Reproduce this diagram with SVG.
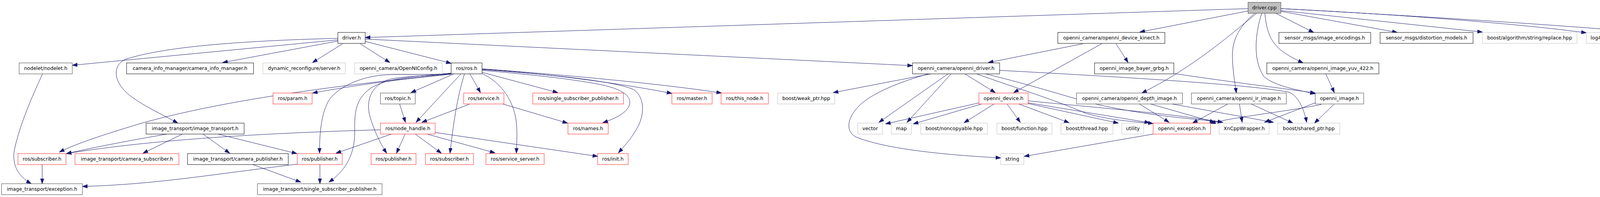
<svg xmlns="http://www.w3.org/2000/svg" width="4419" height="504" viewBox="0 0 4419 504">
<style>
rect{fill:#fff;stroke-width:1}
.k{stroke:#000}
.d{stroke:#404040}
.r{stroke:#ff2020}
.g{stroke:#bfbfbf}
.root{fill:#bfbfbf;stroke:#404040}
text{font-family:"DejaVu Sans","Liberation Sans",sans-serif;font-size:12.5px;fill:#000;text-anchor:middle}
#edges path{fill:none;stroke:#191970;stroke-width:1;marker-end:url(#a)}
</style>
<defs>
<marker id="a" markerUnits="userSpaceOnUse" markerWidth="14" markerHeight="11" refX="13" refY="5.5" orient="auto"><path d="M0,1 L13,5.5 L0,10 z" fill="#191970" stroke="#191970" stroke-width="1"/></marker>
</defs>
<rect x="0" y="0" width="4419" height="504" style="fill:#fff;stroke:none"/>
<g id="edges">
<path d="M3195,22 L935,96"/>
<path d="M3195,28 L2918,82"/>
<path d="M3217,34 C3160,80 3060,170 2923,238"/>
<path d="M3212,34 C3175,65 3155,100 3155,140 C3155,180 3162,215 3165,238"/>
<path d="M3230,34 C3215,80 3205,150 3235,195 C3260,220 3330,232 3367,240"/>
<path d="M3238,34 C3245,110 3270,130 3336,161"/>
<path d="M3266,34 L3363,83"/>
<path d="M3279,29 L3577,83"/>
<path d="M3279,27 L3795,82"/>
<path d="M3279,22 C3600,38 3900,62 4061,84"/>
<path d="M3279,22 C3700,45 4000,65 4210,83"/>
<path d="M865,102 L185,167"/>
<path d="M865,105 L570,160"/>
<path d="M865,98 C600,105 420,120 320,152 C285,170 290,215 340,250 C380,278 430,300 455,315"/>
<path d="M877,112 L800,160"/>
<path d="M922,112 L998,160"/>
<path d="M935,106 L1155,162"/>
<path d="M935,100 L2336,168"/>
<path d="M1155,187 C1080,195 1030,188 980,192 C920,197 860,225 840,260 C822,295 818,340 818,392"/>
<path d="M1155,188 C1080,196 1020,195 990,205 C945,225 940,260 945,290 C955,330 975,370 990,392"/>
<path d="M1155,188 C1060,195 990,200 950,225 C905,255 908,300 908,340 C908,400 880,440 842,466"/>
<path d="M1155,189 C900,215 600,250 370,313 C280,340 200,365 152,389"/>
<path d="M1155,190 C1000,205 900,220 800,238"/>
<path d="M1162,189 L1052,237"/>
<path d="M1180,189 L1065,313"/>
<path d="M1189,189 C1170,250 1160,320 1152,392"/>
<path d="M1203,189 L1230,237"/>
<path d="M1234,188 C1280,210 1310,250 1320,300 C1325,330 1323,360 1322,392"/>
<path d="M1234,185 L1428,237"/>
<path d="M1234,180 C1350,190 1450,200 1530,215 C1600,228 1620,250 1610,272 C1600,292 1570,305 1543,314"/>
<path d="M1234,178 C1400,190 1560,205 1620,228 C1650,245 1650,290 1635,320 C1620,350 1600,372 1583,391"/>
<path d="M1234,177 C1400,188 1600,215 1720,239"/>
<path d="M1234,176 C1450,192 1700,215 1847,238"/>
<path d="M1023,266 L1038,313"/>
<path d="M1203,266 L1080,313"/>
<path d="M1287,266 L1453,315"/>
<path d="M1002,343 L860,392"/>
<path d="M1037,343 L1015,392"/>
<path d="M1063,343 L1130,392"/>
<path d="M1093,343 L1267,391"/>
<path d="M1114,339 L1530,400"/>
<path d="M974,332 C700,340 400,355 170,393"/>
<path d="M427,343 C330,360 250,375 170,393"/>
<path d="M467,343 L366,392"/>
<path d="M520,343 L588,392"/>
<path d="M558,343 L760,393"/>
<path d="M108,421 L108,470"/>
<path d="M109,189 C85,240 50,320 37,383 C30,420 45,450 80,470"/>
<path d="M761,420 C550,445 400,472 211,477"/>
<path d="M819,421 L819,470"/>
<path d="M647,421 L770,466"/>
<path d="M2383,189 L2133,237"/>
<path d="M2377,189 C2300,210 2230,240 2200,270 C2165,305 2165,340 2195,352 C2280,385 2450,398 2562,404"/>
<path d="M2427,189 L2250,313"/>
<path d="M2435,189 L2322,313"/>
<path d="M2470,189 L2548,237"/>
<path d="M2559,180 C2800,193 3200,215 3300,236 C3325,245 3340,285 3345,313"/>
<path d="M2500,189 C2600,225 2700,255 2780,290 C2850,310 2920,312 2952,316"/>
<path d="M2523,189 C2650,220 2740,250 2800,265 C2950,300 3080,305 3130,313"/>
<path d="M2820,112 L2595,237"/>
<path d="M2857,112 L2888,160"/>
<path d="M2772,112 L2530,160"/>
<path d="M3005,188 C3150,210 3300,228 3367,238"/>
<path d="M3394,189 L3416,237"/>
<path d="M2507,263 L2267,317"/>
<path d="M2513,266 L2338,317"/>
<path d="M2545,266 L2468,314"/>
<path d="M2578,266 L2612,313"/>
<path d="M2608,266 L2737,314"/>
<path d="M2632,265 L2863,315"/>
<path d="M2632,263 L2943,314"/>
<path d="M2632,258 C2800,275 3000,290 3130,313"/>
<path d="M2917,266 L2993,313"/>
<path d="M2945,266 L3110,313"/>
<path d="M3000,266 L3260,313"/>
<path d="M3143,266 L3053,315"/>
<path d="M3173,266 L3180,313"/>
<path d="M3203,266 L3310,315"/>
<path d="M3415,267 L3365,315"/>
<path d="M3367,263 L3237,313"/>
<path d="M3383,267 C3300,285 3150,300 3099,316"/>
<path d="M2952,343 L2622,400"/>
</g>
<g id="n_driver_cpp"><rect class="root" x="3195" y="6" width="84" height="28"/><text x="3237" y="23.5">driver.cpp</text></g>
<g id="n_driver_h"><rect class="k" x="865" y="83" width="70" height="28"/><text x="900" y="100.5">driver.h</text></g>
<g id="n_kinect"><rect class="k" x="2708" y="83" width="274" height="28"/><text x="2845" y="100.5">openni_camera/openni_device_kinect.h</text></g>
<g id="n_img_enc"><rect class="k" x="3274" y="83" width="235" height="28"/><text x="3391.5" y="100.5">sensor_msgs/image_encodings.h</text></g>
<g id="n_distortion"><rect class="k" x="3533" y="83" width="238" height="28"/><text x="3652" y="100.5">sensor_msgs/distortion_models.h</text></g>
<g id="n_replace"><rect class="g" x="3795" y="83" width="242" height="28"/><text x="3916" y="100.5">boost/algorithm/string/replace.hpp</text></g>
<g id="n_logger"><rect class="g" x="4061" y="83" width="125" height="28"/><text x="4123.5" y="100.5">log4cxx/logger.h</text></g>
<g id="n_pluginlib"><rect class="k" x="4210" y="83" width="203" height="28"/><text x="4311.5" y="100.5">pluginlib/class_list_macros.h</text></g>
<g id="n_nodelet"><rect class="d" x="49" y="161" width="136" height="28"/><text x="117" y="178.5">nodelet/nodelet.h</text></g>
<g id="n_cim"><rect class="k" x="324" y="161" width="325" height="28"/><text x="486.5" y="178.5">camera_info_manager/camera_info_manager.h</text></g>
<g id="n_dyn"><rect class="g" x="673" y="161" width="211" height="28"/><text x="778.5" y="178.5">dynamic_reconfigure/server.h</text></g>
<g id="n_oniconfig"><rect class="g" x="908" y="161" width="224" height="28"/><text x="1020" y="178.5">openni_camera/OpenNIConfig.h</text></g>
<g id="n_rosros"><rect class="k" x="1155" y="161" width="79" height="28"/><text x="1194.5" y="178.5">ros/ros.h</text></g>
<g id="n_odriver"><rect class="k" x="2336" y="161" width="223" height="28"/><text x="2447.5" y="178.5">openni_camera/openni_driver.h</text></g>
<g id="n_grbg"><rect class="k" x="2802" y="161" width="203" height="28"/><text x="2903.5" y="178.5">openni_image_bayer_grbg.h</text></g>
<g id="n_yuv"><rect class="k" x="3243" y="161" width="287" height="28"/><text x="3386.5" y="178.5">openni_camera/openni_image_yuv_422.h</text></g>
<g id="n_param"><rect class="r" x="699" y="238" width="100" height="28"/><text x="749" y="255.5">ros/param.h</text></g>
<g id="n_topic"><rect class="d" x="974" y="238" width="89" height="28"/><text x="1018.5" y="255.5">ros/topic.h</text></g>
<g id="n_service"><rect class="r" x="1187" y="238" width="103" height="28"/><text x="1238.5" y="255.5">ros/service.h</text></g>
<g id="n_ssp"><rect class="r" x="1364" y="238" width="232" height="28"/><text x="1480" y="255.5">ros/single_subscriber_publisher.h</text></g>
<g id="n_master"><rect class="r" x="1720" y="238" width="103" height="28"/><text x="1771.5" y="255.5">ros/master.h</text></g>
<g id="n_thisnode"><rect class="r" x="1846" y="238" width="121" height="28"/><text x="1906.5" y="255.5">ros/this_node.h</text></g>
<g id="n_weakptr"><rect class="g" x="1991" y="238" width="146" height="28"/><text x="2064" y="255.5">boost/weak_ptr.hpp</text></g>
<g id="n_odevice"><rect class="r" x="2506" y="238" width="126" height="28"/><text x="2569" y="255.5">openni_device.h</text></g>
<g id="n_depth"><rect class="d" x="2756" y="238" width="271" height="28"/><text x="2891.5" y="255.5">openni_camera/openni_depth_image.h</text></g>
<g id="n_ir"><rect class="d" x="3050" y="238" width="243" height="28"/><text x="3171.5" y="255.5">openni_camera/openni_ir_image.h</text></g>
<g id="n_oimage"><rect class="d" x="3367" y="238" width="124" height="28"/><text x="3429" y="255.5">openni_image.h</text></g>
<g id="n_it"><rect class="k" x="374" y="315" width="251" height="28"/><text x="499.5" y="332.5">image_transport/image_transport.h</text></g>
<g id="n_nh"><rect class="r" x="974" y="315" width="140" height="28"/><text x="1044" y="332.5">ros/node_handle.h</text></g>
<g id="n_names"><rect class="r" x="1454" y="315" width="103" height="28"/><text x="1505.5" y="332.5">ros/names.h</text></g>
<g id="n_vector"><rect class="g" x="2196" y="315" width="63" height="28"/><text x="2227.5" y="332.5">vector</text></g>
<g id="n_map"><rect class="g" x="2282" y="315" width="51" height="28"/><text x="2307.5" y="332.5">map</text></g>
<g id="n_noncopy"><rect class="g" x="2357" y="315" width="171" height="28"/><text x="2442.5" y="332.5">boost/noncopyable.hpp</text></g>
<g id="n_function"><rect class="g" x="2552" y="315" width="141" height="28"/><text x="2622.5" y="332.5">boost/function.hpp</text></g>
<g id="n_thread"><rect class="g" x="2716" y="315" width="133" height="28"/><text x="2782.5" y="332.5">boost/thread.hpp</text></g>
<g id="n_utility"><rect class="g" x="2872" y="315" width="56" height="28"/><text x="2900" y="332.5">utility</text></g>
<g id="n_oexc"><rect class="r" x="2952" y="315" width="147" height="28"/><text x="3025.5" y="332.5">openni_exception.h</text></g>
<g id="n_xn"><rect class="g" x="3121" y="315" width="128" height="28"/><text x="3185" y="332.5">XnCppWrapper.h</text></g>
<g id="n_shared"><rect class="g" x="3271" y="315" width="159" height="28"/><text x="3350.5" y="332.5">boost/shared_ptr.hpp</text></g>
<g id="n_rossub1"><rect class="r" x="46" y="393" width="123" height="28"/><text x="107.5" y="410.5">ros/subscriber.h</text></g>
<g id="n_camsub"><rect class="r" x="192" y="393" width="266" height="28"/><text x="325" y="410.5">image_transport/camera_subscriber.h</text></g>
<g id="n_campub"><rect class="k" x="480" y="393" width="258" height="28"/><text x="609" y="410.5">image_transport/camera_publisher.h</text></g>
<g id="n_rospub1"><rect class="r" x="761" y="393" width="115" height="28"/><text x="818.5" y="410.5">ros/publisher.h</text></g>
<g id="n_rospub2"><rect class="r" x="950" y="393" width="115" height="28"/><text x="1007.5" y="410.5">ros/publisher.h</text></g>
<g id="n_rossub2"><rect class="r" x="1089" y="393" width="123" height="28"/><text x="1150.5" y="410.5">ros/subscriber.h</text></g>
<g id="n_srvserver"><rect class="r" x="1244" y="393" width="149" height="28"/><text x="1318.5" y="410.5">ros/service_server.h</text></g>
<g id="n_init"><rect class="r" x="1530" y="393" width="78" height="28"/><text x="1569" y="410.5">ros/init.h</text></g>
<g id="n_string"><rect class="g" x="2562" y="393" width="59" height="28"/><text x="2591.5" y="410.5">string</text></g>
<g id="n_exc"><rect class="d" x="4" y="470" width="207" height="28"/><text x="107.5" y="487.5">image_transport/exception.h</text></g>
<g id="n_ssp2"><rect class="d" x="659" y="470" width="319" height="28"/><text x="818.5" y="487.5">image_transport/single_subscriber_publisher.h</text></g>
</svg>
